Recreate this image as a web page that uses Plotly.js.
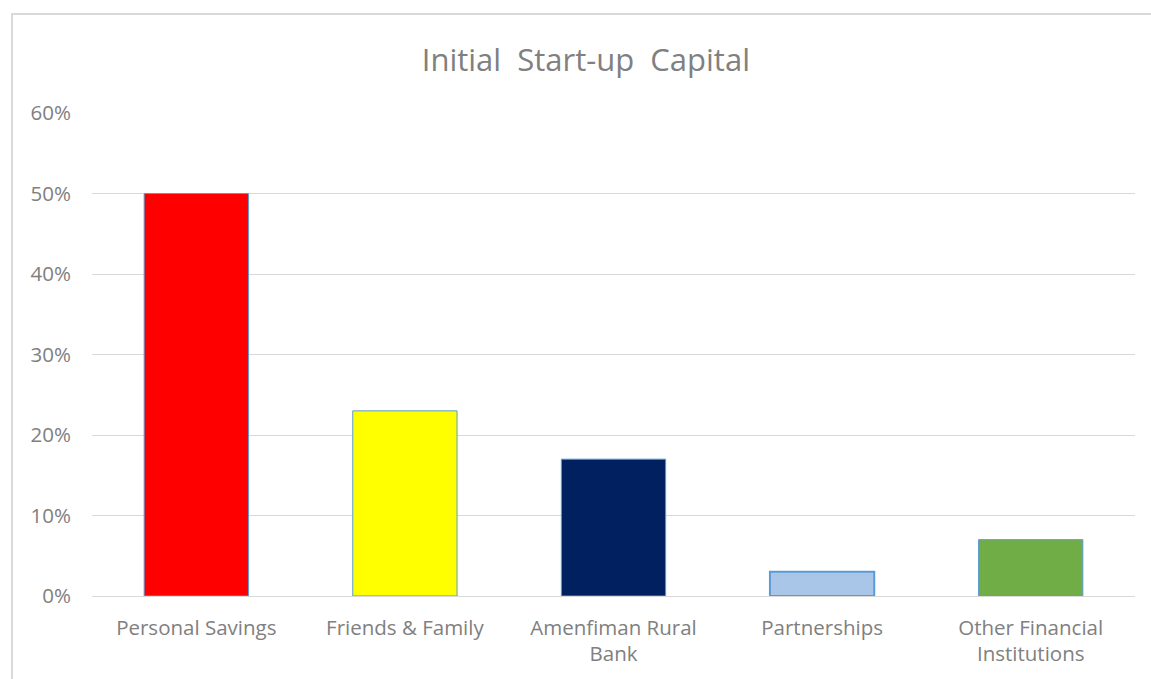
<!DOCTYPE html>
<html>
<head>
<meta charset="utf-8">
<script src="https://cdn.plot.ly/plotly-3.0.1.min.js"></script>
<style>
html,body{margin:0;padding:0;background:#fff;overflow:hidden;}
#chart{position:absolute;left:0;top:0;width:1151px;height:679px;}
#frame{position:absolute;left:11px;top:13px;width:1160px;height:700px;border:2px solid #d9d9d9;pointer-events:none;}
</style>
</head>
<body>
<div id="chart"></div>
<div id="frame"></div>
<script>
const categories = ["Personal Savings", "Friends &amp; Family", "Amenfiman Rural<br>Bank", "Partnerships", "Other Financial<br>Institutions"];
const values = [0.50, 0.23, 0.17, 0.03, 0.07];
const barColors = ["#FF0000", "#FFFF00", "#002060", "#A9C6E8", "#70AD47"];
const tickVals = [0, 0.1, 0.2, 0.3, 0.4, 0.5, 0.6];
const tickText = ["0%", "10%", "20%", "30%", "40%", "50%", "60%"];
const titleText = "Initial&nbsp; Start-up&nbsp; Capital";

const font = "'Open Sans', sans-serif";
const textColor = "#808080";
const trace = {
  type: "bar",
  x: categories,
  y: values,
  marker: {
    color: barColors,
    line: { color: "#5B9BD5", width: [1, 1, 1, 2, 1] }
  },
  hoverinfo: "x+y"
};

const layout = {
  width: 1151,
  height: 679,
  margin: { l: 92, r: 16, t: 113, b: 83 },
  paper_bgcolor: "#ffffff",
  plot_bgcolor: "#ffffff",
  bargap: 0.5,
  showlegend: false,
  title: {
    text: titleText,
    font: { family: font, size: 31, color: textColor },
    x: 0.509,
    xanchor: "center",
    y: 0.912,
    yanchor: "middle",
    xref: "container",
    yref: "container"
  },
  xaxis: {
    type: "category",
    showgrid: false,
    showline: false,
    zeroline: false,
    ticks: "",
    tickfont: { family: font, size: 20.5, color: textColor },
    ticklabelstandoff: 17
  },
  yaxis: {
    range: [0, 0.6],
    tickvals: tickVals,
    ticktext: tickText,
    showgrid: true,
    gridcolor: "#d9d9d9",
    gridwidth: 1,
    zeroline: true,
    zerolinecolor: "#d9d9d9",
    zerolinewidth: 1,
    showline: false,
    ticks: "",
    tickfont: { family: font, size: 20.5, color: textColor },
    ticklabelstandoff: 20
  }
};

Plotly.newPlot("chart", [trace], layout, { displayModeBar: false, staticPlot: true });
</script>
</body>
</html>
